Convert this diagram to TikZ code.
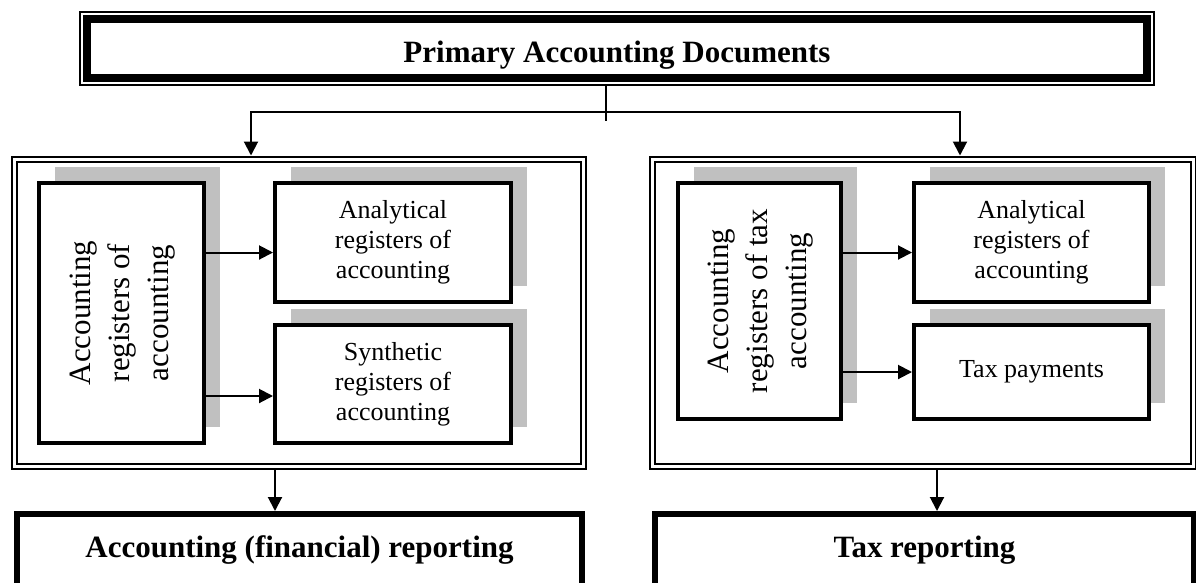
\documentclass[tikz,border=0pt]{standalone}
\usepackage{fontspec}
\setmainfont{Liberation Serif}
\usepackage{tikz}
\usetikzlibrary{positioning}
\usetikzlibrary{fit}
\usetikzlibrary{calc}
\usetikzlibrary{shadows}
\usetikzlibrary{arrows.meta}
\definecolor{shadowgray}{RGB}{192,192,192}

\begin{document}
\begin{tikzpicture}[
x=1pt, y=-1pt,
titlenode/.style={
    rectangle,
    draw=black,
    line width=8pt,
    minimum width=1060pt,
    minimum height=59pt,
    inner sep=0pt, % No inner spacing
    text height=33.7pt,
    text depth=6.7pt,
    font=\fontsize{31}{37}\selectfont\bfseries,
},
thinframe/.style={
    rectangle,
    draw=black,
    line width=1.5pt,
    inner sep=3pt,
},
framenode/.style={
    rectangle,
    draw=black,
    line width=2pt,
    double=white,
    double distance=3pt,
    outer sep=3.5pt, % outer line of the double frame
},
regnode/.style={
    rectangle,
    draw=black,
    fill=white,
    line width=4pt,
    inner sep=0pt,
    align=center,
    drop shadow={shadow xshift=16pt, shadow yshift=16pt, fill=shadowgray, opacity=1},
    font=\fontsize{26}{30}\selectfont,
},
reportnode/.style={
    rectangle,
    draw=black,
    line width=6pt,
    minimum height=74pt,
    inner sep=0pt,
    text height=18.7pt,
    text depth=6.7pt,
    font=\fontsize{31}{37}\selectfont\bfseries,
},
conn/.style={line width=2pt, line cap=rect},
arr/.style={-{Triangle[length=14pt,width=14pt]}, line width=2pt},
]

\useasboundingbox (0,0) rectangle (1196,582);

\node[titlenode] (title) at (617,48.5) {Primary Accounting Documents};
\node[thinframe, fit=(title)] (titleframe) {};

\node[framenode, minimum width=568.5pt, minimum height=307.5pt] (frameL) at (298.75,312.75) {};
\node[framenode, minimum width=541pt, minimum height=307.5pt] (frameR) at (922.5,312.75) {};

% financial accounting
\node[regnode, minimum width=165pt, minimum height=260pt] (accL) at (121.5,313)
    {\rotatebox{90}{\fontsize{31}{39}\selectfont\begin{tabular}{@{}c@{}}Accounting\\registers of\\accounting\end{tabular}}};
\node[regnode, minimum width=236pt, minimum height=119pt] (anaL) at (393,242.5) {Analytical\\registers of\\accounting};
\node[regnode, minimum width=236pt, minimum height=118pt, below=19pt of anaL] (synL) {Synthetic\\registers of\\accounting};

% tax accounting
\node[regnode, minimum width=163pt, minimum height=236pt] (accR) at (759.5,301)
    {\rotatebox{90}{\fontsize{31}{39}\selectfont\begin{tabular}{@{}c@{}}Accounting\\registers of tax\\accounting\end{tabular}}};
\node[regnode, minimum width=235pt, minimum height=119pt] (anaR) at (1031.5,242.5) {Analytical\\registers of\\accounting};
\node[regnode, minimum width=235pt, minimum height=94pt, below=19pt of anaR] (taxR) {Tax payments};

\node[reportnode, minimum width=565pt] (reportL) at (299.5,551) {Accounting (financial) reporting};
\node[reportnode, minimum width=539pt] (reportR) at (924.5,551) {Tax reporting};

\coordinate (stub) at (606,120);
\coordinate (splitL) at (251,112);
\coordinate (splitR) at (960,112);
\coordinate (downL) at (275,0);
\coordinate (downR) at (937,0);
\coordinate (a1) at ([yshift=-10pt]anaL.west);
\coordinate (a2) at ([yshift=-12pt]synL.west);
\coordinate (a3) at ([yshift=-10pt]anaR.west);
\coordinate (a4) at (taxR.west);

\draw[conn] (titleframe.south -| stub) -- (stub);
\draw[conn] (splitL) -- (splitR);
\draw[arr] (splitL) -- (splitL |- frameL.north);
\draw[arr] (splitR) -- (splitR |- frameR.north);

\draw[arr] (accL.east |- a1) -- (a1);
\draw[arr] (accL.east |- a2) -- (a2);
\draw[arr] (accR.east |- a3) -- (a3);
\draw[arr] (accR.east |- a4) -- (a4);

\draw[arr] (frameL.south -| downL) -- (reportL.north -| downL);
\draw[arr] (frameR.south -| downR) -- (reportR.north -| downR);

\end{tikzpicture}
\end{document}
